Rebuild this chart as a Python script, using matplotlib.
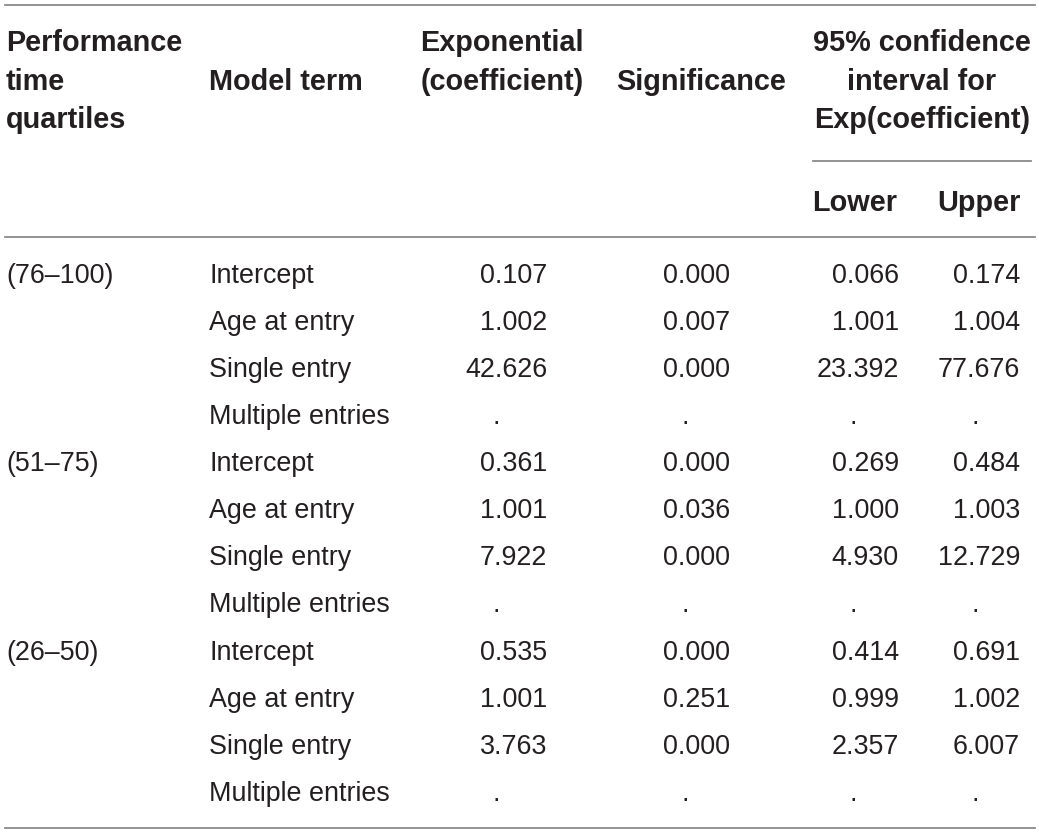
import matplotlib
matplotlib.use("Agg")
import matplotlib.pyplot as plt

# ---- data ----
quartiles = ["(76–100)", "(51–75)", "(26–50)"]
terms = ["Intercept", "Age at entry", "Single entry", "Multiple entries"]
exp_coef = ["0.107", "1.002", "42.626", ".",
            "0.361", "1.001", "7.922", ".",
            "0.535", "1.001", "3.763", "."]
significance = ["0.000", "0.007", "0.000", ".",
                "0.000", "0.036", "0.000", ".",
                "0.000", "0.251", "0.000", "."]
ci_lower = ["0.066", "1.001", "23.392", ".",
            "0.269", "1.000", "4.930", ".",
            "0.414", "0.999", "2.357", "."]
ci_upper = ["0.174", "1.004", "77.676", ".",
            "0.484", "1.003", "12.729", ".",
            "0.691", "1.002", "6.007", "."]

# ---- layout ----
W, H = 1039, 834
fig = plt.figure(figsize=(W / 100, H / 100), dpi=100)
ax = fig.add_axes([0, 0, 1, 1])
ax.set_xlim(0, W)
ax.set_ylim(H, 0)
ax.axis("off")

FONT = "Liberation Sans"
FS_BODY = 19.4
FS_HEAD = 20.8
TXT = "#231f20"
LINE = "#8a8a8a"

def t(x, y, s, ha="left", bold=False):
    ax.text(x, y, s, ha=ha, va="baseline",
            fontsize=FS_HEAD if bold else FS_BODY, color=TXT,
            family=FONT, fontweight="bold" if bold else "normal")

# rules
ax.plot([5, 1035], [5.3, 5.3], color=LINE, lw=1.3)
ax.plot([813, 1031], [160.5, 160.5], color=LINE, lw=1.3)
ax.plot([5, 1035], [236.5, 236.5], color=LINE, lw=1.3)
ax.plot([5, 1035], [827.7, 827.7], color=LINE, lw=1.3)

# headers
t(6, 51, "Performance", bold=True)
t(6, 90, "time", bold=True)
t(6, 128, "quartiles", bold=True)
t(209, 90, "Model term", bold=True)
t(502, 51, "Exponential", ha="center", bold=True)
t(502, 90, "(coefficient)", ha="center", bold=True)
t(701, 90, "Significance", ha="center", bold=True)
t(922, 51, "95% confidence", ha="center", bold=True)
t(922, 90, "interval for", ha="center", bold=True)
t(922, 128, "Exp(coefficient)", ha="center", bold=True)
t(855, 211, "Lower", ha="center", bold=True)
t(979, 211, "Upper", ha="center", bold=True)

# body
y0, dy = 282.7, 47.1
for i in range(len(terms) * len(quartiles)):
    y = y0 + i * dy
    if i % len(terms) == 0:
        t(6, y, quartiles[i // len(terms)])
    t(209, y, terms[i % len(terms)])
    for vals, xr, xdot in [(exp_coef, 547, 496),
                           (significance, None, 685),
                           (ci_lower, 899, 853),
                           (ci_upper, 1020, 975)]:
        v = vals[i]
        if v == ".":
            t(xdot, y, v, ha="center")
        elif xr is None:
            t(697, y, v, ha="center")
        else:
            t(xr, y, v, ha="right")

fig.savefig("out.png", dpi=100)
